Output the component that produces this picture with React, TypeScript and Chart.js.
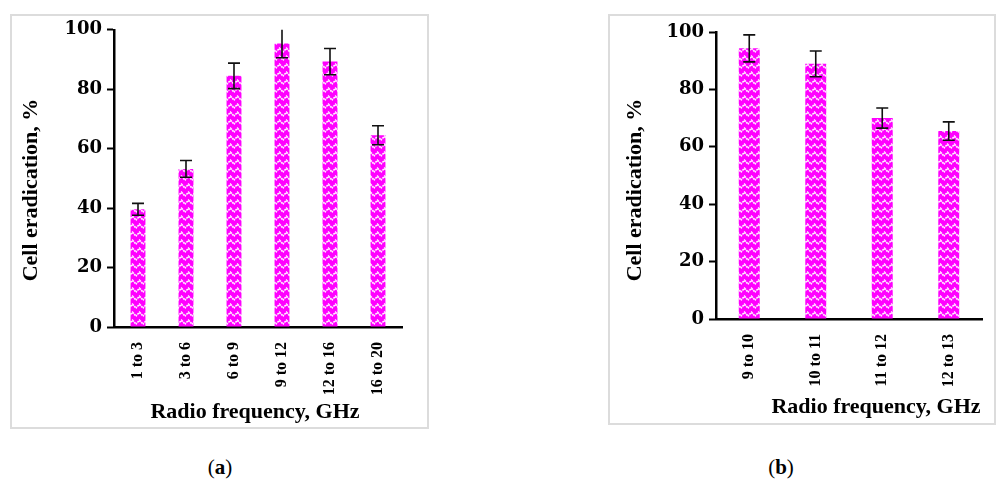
import React, { useEffect, useRef } from "react";
import { Chart, registerables } from "chart.js";

Chart.register(...registerables);

const categoriesA = ["1 to 3", "3 to 6", "6 to 9", "9 to 12", "12 to 16", "16 to 20"];
const valuesA = [39.6, 53.2, 84.5, 95.4, 89.3, 64.5];
const errorsA = [2.0, 2.8, 4.3, 4.8, 4.4, 3.2];

const categoriesB = ["9 to 10", "10 to 11", "11 to 12", "12 to 13"];
const valuesB = [94.3, 88.9, 70.0, 65.5];
const errorsB = [4.7, 4.5, 3.5, 3.2];

const yTicks = [0, 20, 40, 60, 80, 100];

const xTitle = "Radio frequency, GHz";
const yTitle = "Cell eradication, %";

function makePattern(): CanvasPattern | string {
  const c = document.createElement("canvas");
  c.width = 7;
  c.height = 8;
  const g = c.getContext("2d");
  if (!g) return "#ff00ff";
  g.fillStyle = "#ff00ff";
  g.fillRect(0, 0, 7, 8);
  g.strokeStyle = "rgba(255,255,255,0.95)";
  g.lineWidth = 1.7;
  g.setLineDash([2, 0.8]);
  g.beginPath();
  g.moveTo(-0.5, 6.5);
  g.lineTo(3.5, 2.3);
  g.lineTo(7.5, 6.5);
  g.stroke();
  const p = g.createPattern(c, "repeat");
  return p || "#ff00ff";
}

const errorBarPlugin = {
  id: "errorBars",
  afterDatasetsDraw(chart: any, _args: any, opts: any) {
    const errs: number[] = opts.errors || [];
    const meta = chart.getDatasetMeta(0);
    const y = chart.scales.y;
    const ctx = chart.ctx;
    const vals = chart.data.datasets[0].data as number[];
    ctx.save();
    ctx.strokeStyle = "#111";
    ctx.lineWidth = 1.6;
    meta.data.forEach((bar: any, i: number) => {
      const v = vals[i];
      const e = errs[i] || 0;
      const top = Math.max(y.getPixelForValue(v + e), y.getPixelForValue(100));
      const bot = y.getPixelForValue(v - e);
      const cx = bar.x;
      const hw = opts.capHalf || 6;
      ctx.beginPath();
      ctx.moveTo(cx, top);
      ctx.lineTo(cx, bot);
      if (v + e <= 100) {
        ctx.moveTo(cx - hw, top);
        ctx.lineTo(cx + hw, top);
      }
      ctx.moveTo(cx - hw, bot);
      ctx.lineTo(cx + hw, bot);
      ctx.stroke();
    });
    ctx.restore();
  },
};

const titlesPlugin = {
  id: "axisTitles",
  afterDraw(chart: any, _args: any, opts: any) {
    const ctx = chart.ctx;
    ctx.save();
    ctx.fillStyle = "#000";
    ctx.font = "bold 22px 'Liberation Serif'";
    ctx.textBaseline = "alphabetic";
    ctx.textAlign = "center";
    ctx.fillText(xTitle, opts.xTitleX, opts.xTitleY);
    ctx.translate(opts.yTitleX, opts.yTitleY);
    ctx.rotate(-Math.PI / 2);
    ctx.textBaseline = "middle";
    ctx.fillText(yTitle, 0, 0);
    ctx.restore();
  },
};

interface PanelProps {
  labels: string[];
  values: number[];
  errors: number[];
  left: number;
  top: number;
  width: number;
  height: number;
  padTop: number;
  padRight: number;
  yWidth: number;
  xHeight: number;
  barPct: number;
  xTitleX: number;
  xTitleY: number;
  yTitleX: number;
  yTitleY: number;
}

function Panel(p: PanelProps) {
  const ref = useRef<HTMLCanvasElement | null>(null);
  useEffect(() => {
    if (!ref.current) return;
    const pattern = makePattern();
    const chart = new Chart(ref.current, {
      type: "bar",
      data: {
        labels: p.labels,
        datasets: [
          {
            data: p.values,
            backgroundColor: pattern as any,
            borderWidth: 0,
            barPercentage: p.barPct,
            categoryPercentage: 1,
          },
        ],
      },
      options: {
        animation: false,
        responsive: false,
        maintainAspectRatio: false,
        layout: { padding: { top: p.padTop, right: p.padRight, left: 0, bottom: 0 } },
        plugins: {
          legend: { display: false },
          tooltip: { enabled: false },
          errorBars: { errors: p.errors, capHalf: 6 },
          axisTitles: {
            xTitleX: p.xTitleX,
            xTitleY: p.xTitleY,
            yTitleX: p.yTitleX,
            yTitleY: p.yTitleY,
          },
        } as any,
        scales: {
          x: {
            grid: { display: false },
            border: { display: true, color: "#000", width: 2.5 },
            ticks: {
              color: "#000",
              font: { family: "'Liberation Serif'", size: 16, weight: "bold" },
              minRotation: 90,
              maxRotation: 90,
              padding: 7,
              autoSkip: false,
            },
            afterFit: (s: any) => {
              s.height = p.xHeight;
            },
          },
          y: {
            min: 0,
            max: 100,
            afterBuildTicks: (s: any) => {
              s.ticks = yTicks.map((v) => ({ value: v }));
            },
            grid: {
              display: true,
              drawOnChartArea: false,
              drawTicks: true,
              tickLength: 7,
              tickColor: "#000",
              tickWidth: 2,
            },
            border: { display: true, color: "#000", width: 2.5 },
            ticks: {
              color: "#000",
              font: { family: "'DejaVu Serif'", size: 18, weight: "bold" },
              padding: 5,
            },
            afterFit: (s: any) => {
              s.width = p.yWidth;
            },
          },
        },
      },
      plugins: [errorBarPlugin, titlesPlugin],
    });
    return () => chart.destroy();
  }, []);
  return (
    <canvas
      ref={ref}
      width={p.width}
      height={p.height}
      style={{ position: "absolute", left: p.left, top: p.top, width: p.width, height: p.height }}
    />
  );
}

const frameStyle = (l: number, t: number, r: number, b: number): React.CSSProperties => ({
  position: "absolute",
  left: l,
  top: t,
  width: r - l,
  height: b - t,
  boxSizing: "border-box",
  border: "2px solid #dcdcdc",
  background: "#fff",
});

const capStyle = (cx: number): React.CSSProperties => ({
  position: "absolute",
  left: cx - 30,
  top: 455,
  width: 60,
  textAlign: "center",
  fontFamily: "'Liberation Serif', serif",
  fontSize: 21,
  lineHeight: "25px",
  color: "#000",
});

export default function App() {
  return (
    <div style={{ position: "absolute", left: 0, top: 0, width: 996, height: 481, background: "#fff", overflow: "hidden" }}>
      <div style={frameStyle(10, 14, 429, 429)} />
      <div style={frameStyle(608, 14, 996, 425)} />
      <Panel
        labels={categoriesA}
        values={valuesA}
        errors={errorsA}
        left={10}
        top={14}
        width={418}
        height={414}
        padTop={15}
        padRight={26}
        yWidth={104}
        xHeight={101}
        barPct={0.31}
        xTitleX={245}
        xTitleY={404}
        yTitleX={21}
        yTitleY={176}
      />
      <Panel
        labels={categoriesB}
        values={valuesB}
        errors={errorsB}
        left={608}
        top={14}
        width={387}
        height={410}
        padTop={18}
        padRight={13}
        yWidth={108}
        xHeight={105}
        barPct={0.315}
        xTitleX={268}
        xTitleY={399}
        yTitleX={27}
        yTitleY={176}
      />
      <div style={capStyle(220)}>
        (<b>a</b>)
      </div>
      <div style={capStyle(781)}>
        (<b>b</b>)
      </div>
    </div>
  );
}
